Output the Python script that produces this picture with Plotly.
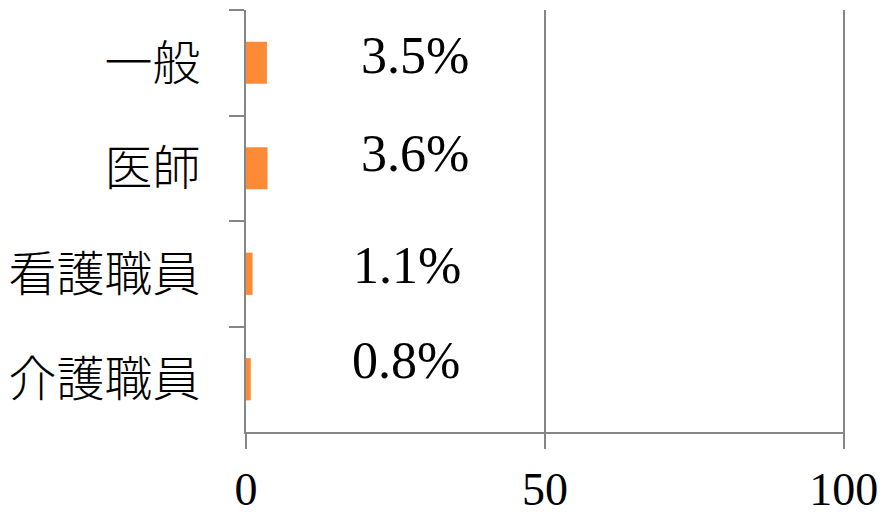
import plotly.graph_objects as go

categories = ["一般", "医師", "看護職員", "介護職員"]
values = [3.5, 3.6, 1.1, 0.8]
labels = ["3.5%", "3.6%", "1.1%", "0.8%"]
# label placement (data x, category offset)
label_x = [28.3, 28.3, 27.0, 26.8]
label_dy = [-0.07, -0.14, -0.08, -0.18]
x_ticks = [0, 50, 100]

axis_color = "#868686"
serif = "Liberation Serif, DejaVu Serif, serif"
cjk = "Noto Sans CJK JP, sans-serif"

fig = go.Figure(go.Bar(
    x=values, y=categories, orientation="h",
    marker=dict(color="#FD8A36", line=dict(width=0)),
    hoverinfo="skip",
))

annotations = []
for i, (lx, dy, t) in enumerate(zip(label_x, label_dy, labels)):
    annotations.append(dict(
        x=lx, y=i + dy, xref="x", yref="y", text=t, showarrow=False,
        xanchor="center", yanchor="middle",
        font=dict(family=serif, size=52, color="#000000"),
    ))

# page body has an 8px margin; size the figure to fill the remaining window
fig.update_layout(
    width=877, height=508,
    margin=dict(l=238, r=40, t=2, b=84, autoexpand=False),
    paper_bgcolor="white", plot_bgcolor="white",
    bargap=0.6, showlegend=False,
    annotations=annotations,
    xaxis=dict(
        range=[0, 100.2], tickvals=x_ticks, ticktext=[str(v) for v in x_ticks],
        showline=True, linecolor=axis_color, linewidth=2,
        showgrid=True, gridcolor=axis_color, gridwidth=2,
        zeroline=False, automargin=False,
        ticks="outside", ticklen=15, tickwidth=2, tickcolor=axis_color,
        tickfont=dict(family=serif, size=46, color="#000000"),
        ticklabelstandoff=1,
        fixedrange=True,
    ),
    yaxis=dict(
        type="category", categoryorder="array", categoryarray=categories,
        autorange="reversed", automargin=False,
        showline=True, linecolor=axis_color, linewidth=2,
        showgrid=False, zeroline=False,
        ticks="outside", tickson="boundaries", ticklen=15, tickwidth=2,
        tickcolor=axis_color,
        tickfont=dict(family=cjk, size=48, color="#000000", weight=300),
        ticklabelstandoff=34,
        fixedrange=True,
    ),
)

fig.write_html("out.html", config={"displayModeBar": False})
